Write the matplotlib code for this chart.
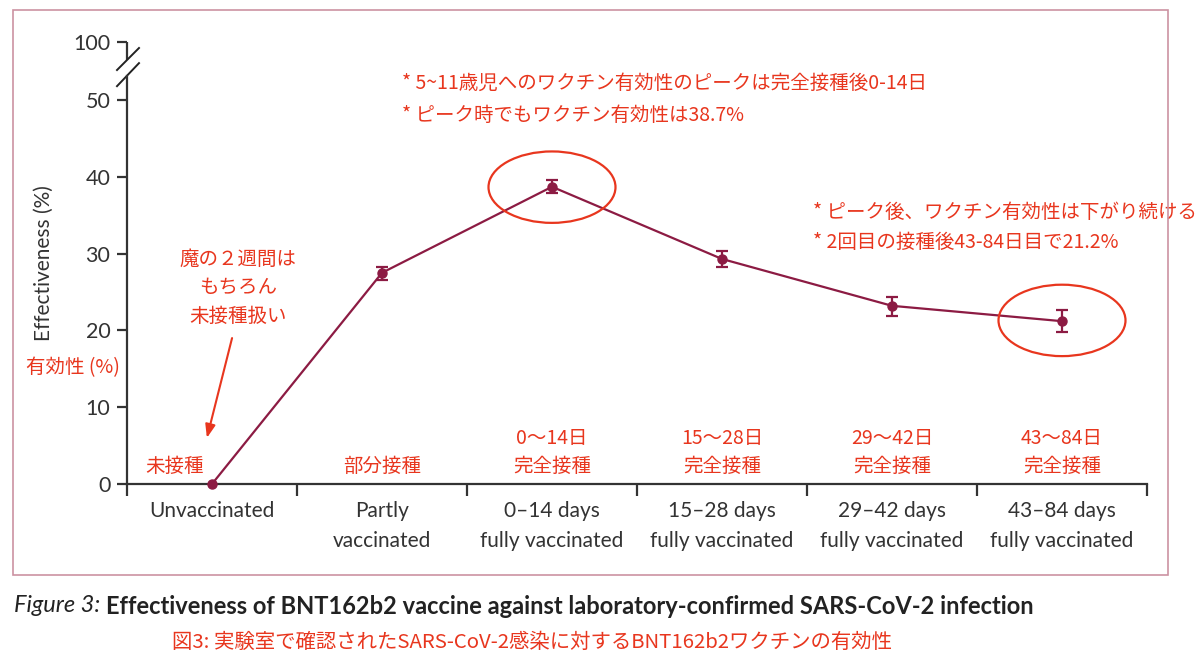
import matplotlib
matplotlib.use("Agg")
import matplotlib.pyplot as plt
from matplotlib.patches import Ellipse, Rectangle
import numpy as np

categories = ["Unvaccinated", "Partly\nvaccinated", "0–14 days\nfully vaccinated",
              "15–28 days\nfully vaccinated", "29–42 days\nfully vaccinated",
              "43–84 days\nfully vaccinated"]
jp_labels = ["未接種", "部分接種", "0〜14日\n完全接種", "15〜28日\n完全接種",
             "29〜42日\n完全接種", "43〜84日\n完全接種"]
effectiveness = [0.0, 27.5, 38.7, 29.3, 23.2, 21.2]
ci_low = [np.nan, 26.6, 37.9, 28.2, 21.9, 19.8]
ci_high = [np.nan, 28.3, 39.6, 30.4, 24.4, 22.6]
y_ticks = [0, 10, 20, 30, 40, 50]
top_tick_label = "100"

LINE = "#8c1b43"
RED = "#e8361e"
DARK = "#333333"
CJK = ["Noto Sans CJK JP", "DejaVu Sans"]

plt.rcParams["font.family"] = ["Lato", "Noto Sans CJK JP", "DejaVu Sans"]

fig = plt.figure(figsize=(12, 6.65), dpi=100)
ax = fig.add_axes([127/1200, 1 - 484/665, 1020/1200, (484-42)/665])

x = np.arange(len(categories)) + 0.5
eff = np.array(effectiveness)
lo = np.array(ci_low)
hi = np.array(ci_high)
yerr = np.vstack([eff - lo, hi - eff])
yerr = np.nan_to_num(yerr)

ytop = 57.55
ax.set_xlim(0, len(categories))
ax.set_ylim(0, ytop)

ax.plot(x, eff, color=LINE, lw=1.6, zorder=3, clip_on=False)
ax.errorbar(x[1:], eff[1:], yerr=yerr[:, 1:], fmt="none", ecolor=LINE,
            elinewidth=1.6, capsize=4.5, capthick=1.6, zorder=4)
ax.plot(x, eff, "o", color=LINE, ms=6.5, zorder=5, clip_on=False)

# spines
for s in ["top", "right"]:
    ax.spines[s].set_visible(False)
ax.spines["left"].set_bounds(0, 53.1)
for s in ["left", "bottom"]:
    ax.spines[s].set_color(DARK)
    ax.spines[s].set_linewidth(1.6)
ax.plot([0, 0], [55.2, ytop], color=DARK, lw=1.6, clip_on=False, solid_capstyle="butt")
# break marks
ax.plot([-0.0588, 0.0706], [53.9, 56.77], color="#222222", lw=1.4, clip_on=False)
ax.plot([-0.0588, 0.0706], [51.8, 54.8], color="#222222", lw=1.4, clip_on=False)

ax.set_yticks(y_ticks + [ytop])
ax.set_yticklabels([str(v) for v in y_ticks] + [top_tick_label])
ax.tick_params(axis="y", direction="out", length=7, width=1.6, color=DARK,
               labelsize=15.5, labelcolor=DARK, pad=5)

ax.set_xticks(np.arange(len(categories) + 1))
ax.set_xticklabels([])
ax.tick_params(axis="x", which="major", direction="out", length=8.5, width=1.6, color=DARK)
ax.set_xticks(x, minor=True)
ax.set_xticklabels(categories, minor=True, linespacing=1.62)
ax.tick_params(axis="x", which="minor", length=0, labelsize=15, labelcolor=DARK, pad=12.5)

ax.set_ylabel("Effectiveness (%)", fontsize=15, color=DARK)
ax.yaxis.set_label_coords((54-127)/1020, 0.5)

# Japanese category labels
for i, lab in enumerate(jp_labels):
    xi = x[i] if i > 0 else 0.28
    ax.text(xi, 0.9, lab, ha="center", va="bottom", color=RED, fontsize=14,
            family=CJK, linespacing=1.45)

# ellipses
for i in [2, 5]:
    ax.add_patch(Ellipse((x[i], eff[i] - 0.05 if i == 2 else eff[i] + 0.1), 0.747, 9.3,
                         fill=False, edgecolor=RED, lw=1.6, zorder=6, clip_on=False))

# annotations
ax.text(1.62, 52.2, "* 5~11歳児へのワクチン有効性のピークは完全接種後0-14日",
        color=RED, fontsize=14, family=CJK, va="center", ha="left")
ax.text(1.62, 48.0, "* ピーク時でもワクチン有効性は38.7%",
        color=RED, fontsize=14, family=CJK, va="center", ha="left")
ax.text(4.035, 35.3, "* ピーク後、ワクチン有効性は下がり続ける",
        color=RED, fontsize=14, family=CJK, va="center", ha="left", clip_on=False)
ax.text(4.035, 31.5, "* 2回目の接種後43-84日目で21.2%",
        color=RED, fontsize=14, family=CJK, va="center", ha="left")
for txt, yy in [("魔の２週間は", 29.3), ("もちろん", 25.65), ("未接種扱い", 21.75)]:
    ax.text(0.653, yy, txt, color=RED, fontsize=14, family=CJK, va="center", ha="center")
ax.text(-0.318, 15.1, "有効性 (%)", color=RED, fontsize=14, family=CJK,
        va="center", ha="center", clip_on=False)
ax.annotate("", xy=(0.47, 6.0), xytext=(0.618, 19.0),
            arrowprops=dict(arrowstyle="-|>,head_length=0.8,head_width=0.3",
                            color=RED, lw=1.5, shrinkA=0, shrinkB=0))

# border box
fig.patches.append(Rectangle((13/1200, 1 - 575/665), (1168-13)/1200, (575-10)/665,
                             transform=fig.transFigure, fill=False,
                             edgecolor="#cc92a2", lw=1.2, zorder=0))

# captions
t1 = fig.text(14/1200, 1 - 606/665, "Figure 3: ", fontsize=17, style="italic",
              color="#222222", va="center", ha="left")
fig.canvas.draw()
ax.annotate("Effectiveness of BNT162b2 vaccine against laboratory-confirmed SARS-CoV-2 infection",
            xy=(1, 0.5), xycoords=t1, va="center", ha="left", fontsize=17,
            fontweight="bold", color="#222222", annotation_clip=False)
fig.text(172/1200, 1 - 642/665, "図3: 実験室で確認されたSARS-CoV-2感染に対するBNT162b2ワクチンの有効性",
         fontsize=14.7, color=RED, family=CJK, va="center", ha="left")

fig.savefig("out.png", dpi=100)
